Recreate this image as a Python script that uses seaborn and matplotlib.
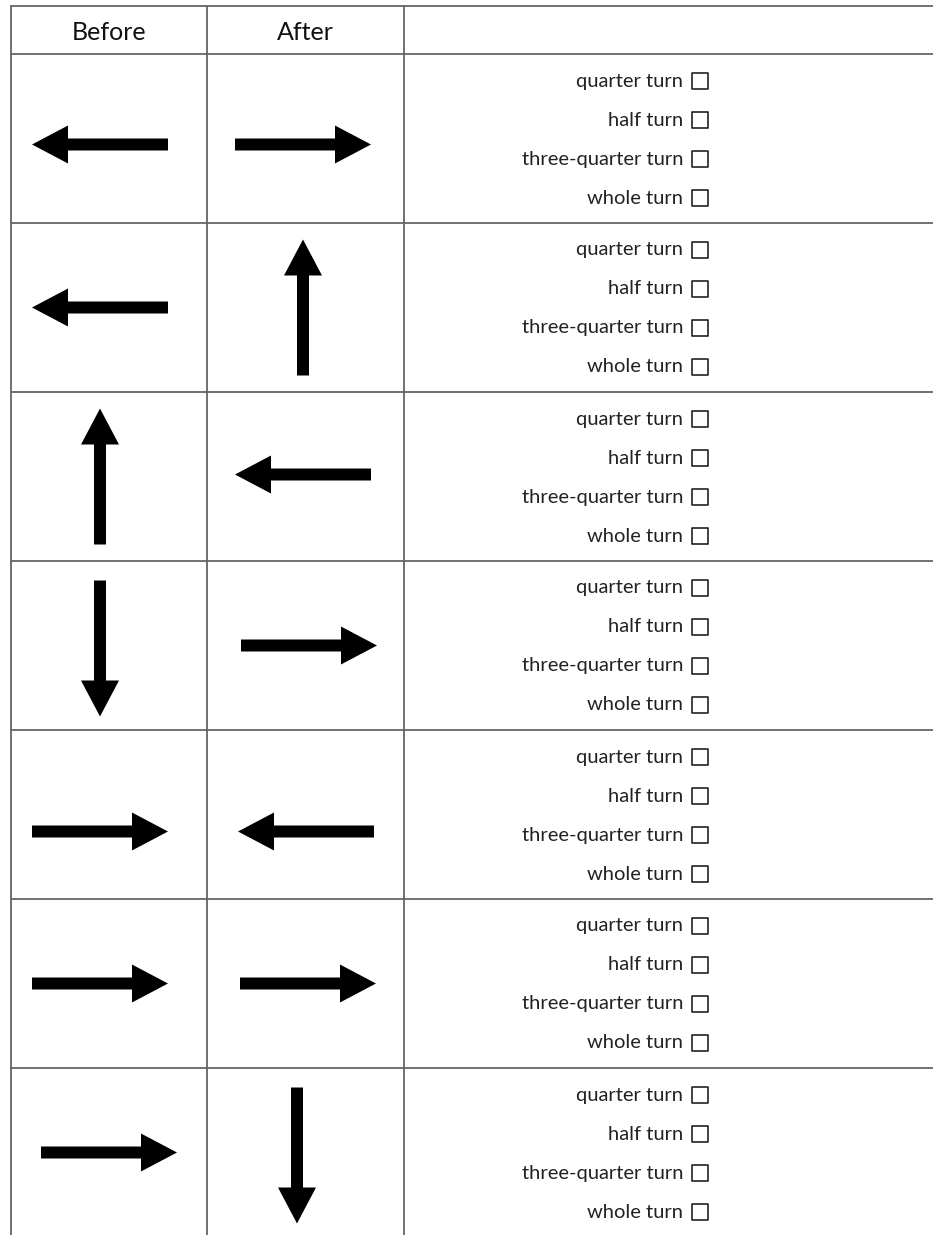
"""Rotation worksheet: before/after arrows with turn choices."""

import matplotlib
matplotlib.use("Agg")
import matplotlib.pyplot as plt
import numpy as np
import pandas as pd
import seaborn as sns

# ---- data ---------------------------------------------------------------
headers = ["Before", "After", ""]
before_dirs = ["left", "left", "up", "down", "right", "right", "right"]
after_dirs = ["right", "up", "left", "right", "left", "right", "down"]
choices = ["quarter turn", "half turn", "three-quarter turn", "whole turn"]

# ---- layout (pixel units, y grows downward) -----------------------------
W, H = 933, 1235
left_edge, col1, col2 = 11, 207, 404
top_edge, head_bottom, row_h = 6, 54, 169
before_cx, after_cx = 100, 303
arrow_len, shaft_w, head_w, head_l = 136, 12, 38, 36
text_right, box_x = 683, 700
choice_first, choice_step = 27, 39
line_color = "#666666"

# small nudges to mimic the hand-placed arrows (row, column) -> (dx, dy)
nudges = {(0, 0): (0, 6), (0, 1): (0, 6), (2, 1): (0, -2), (3, 0): (0, 3),
          (3, 1): (6, 0), (4, 0): (0, 17), (4, 1): (3, 17), (5, 1): (5, 0),
          (6, 0): (9, 0), (6, 1): (-6, 3)}

vectors = {"left": (-1, 0), "right": (1, 0), "up": (0, -1), "down": (0, 1)}

sns.set_theme(style="white")
plt.rcParams["font.family"] = ["Lato", "DejaVu Sans"]

fig = plt.figure(figsize=(W / 100, H / 100), dpi=100)
ax = fig.add_axes([0, 0, 1, 1])
ax.set_xlim(0, W)
ax.set_ylim(H, 0)
ax.set_axis_off()

n_rows = len(before_dirs)
row_tops = [head_bottom + i * row_h for i in range(n_rows)]

# grid lines
for y in [top_edge, head_bottom] + row_tops[1:]:
    ax.plot([left_edge, W], [y, y], color=line_color, lw=1.3)
for x in [left_edge, col1, col2]:
    ax.plot([x, x], [top_edge, H], color=line_color, lw=1.3)

# header texts
for label, x0, x1 in zip(headers, [left_edge, col1, col2], [col1, col2, W]):
    ax.text((x0 + x1) / 2, (top_edge + head_bottom) / 2 + 2, label,
            ha="center", va="center", fontsize=18, color="#111111")


def draw_arrow(cx, cy, direction):
    dx, dy = vectors[direction]
    x0 = cx - dx * arrow_len / 2
    y0 = cy - dy * arrow_len / 2
    ax.arrow(x0, y0, dx * arrow_len, dy * arrow_len, width=shaft_w,
             head_width=head_w, head_length=head_l,
             length_includes_head=True, color="black", lw=0)


for i, (b, a) in enumerate(zip(before_dirs, after_dirs)):
    cy = row_tops[i] + row_h / 2
    for j, (cx, d) in enumerate([(before_cx, b), (after_cx, a)]):
        ndx, ndy = nudges.get((i, j), (0, 0))
        draw_arrow(cx + ndx, cy + ndy, d)

# choice labels with tick boxes
box_rows = []
for i in range(n_rows):
    for k, label in enumerate(choices):
        y = row_tops[i] + choice_first + k * choice_step
        ax.text(text_right, y, label, ha="right", va="center",
                fontsize=14.5, color="#222222")
        box_rows.append({"x": box_x, "y": y})

boxes = pd.DataFrame(box_rows)
sns.scatterplot(data=boxes, x="x", y="y", marker="s", s=125,
                facecolor="none", edgecolor="#222222", linewidth=1.2,
                ax=ax, legend=False)
ax.set_xlim(0, W)
ax.set_ylim(H, 0)

fig.savefig("out.png", dpi=100, facecolor="white")
plt.close(fig)
